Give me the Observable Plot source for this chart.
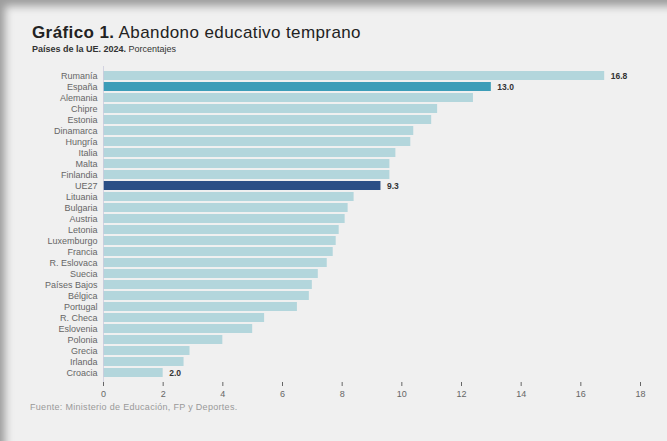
<!DOCTYPE html>
<html><head><meta charset="utf-8">
<script src="https://cdn.jsdelivr.net/npm/d3@7"></script>
<script src="https://cdn.jsdelivr.net/npm/@observablehq/plot@0.6"></script>
<style>
html,body{margin:0;padding:0;}
body{width:667px;height:441px;overflow:hidden;background:#f0f0f0;font-family:"Liberation Sans",Arial,sans-serif;position:relative;}
#frame{position:absolute;left:0;top:0;width:667px;height:441px;box-shadow:inset 9px 10px 9px -4px rgba(0,0,0,0.35);pointer-events:none;z-index:2;}
#title{position:absolute;left:32px;top:24px;font-size:17px;line-height:17px;color:#222;letter-spacing:0.4px;}
#title b{font-weight:bold;}
#sub{position:absolute;left:32px;top:44px;font-size:9px;line-height:10px;color:#333;}
#chart{position:absolute;left:0;top:58px;}
#src{position:absolute;left:30px;top:402px;font-size:9px;color:#999;letter-spacing:0.3px;}
</style></head>
<body>
<div id="frame"></div>
<div id="title"><b>Gráfico 1.</b> Abandono educativo temprano</div>
<div id="sub"><b>Países de la UE. 2024.</b> Porcentajes</div>
<div id="chart"></div>
<div id="src">Fuente: Ministerio de Educación, FP y Deportes.</div>
<script>
const countries = ["Rumanía","España","Alemania","Chipre","Estonia","Dinamarca","Hungría","Italia","Malta","Finlandia","UE27","Lituania","Bulgaria","Austria","Letonia","Luxemburgo","Francia","R. Eslovaca","Suecia","Países Bajos","Bélgica","Portugal","R. Checa","Eslovenia","Polonia","Grecia","Irlanda","Croacia"];
const values = [16.8,13.0,12.4,11.2,11.0,10.4,10.3,9.8,9.6,9.6,9.3,8.4,8.2,8.1,7.9,7.8,7.7,7.5,7.2,7.0,6.9,6.5,5.4,5.0,4.0,2.9,2.7,2.0];
const labelled = ["Rumanía","España","UE27","Croacia"];
const xTicks = [0,2,4,6,8,10,12,14,16,18];

const data = countries.map((c,i)=>({country:c, value:values[i]}));
const color = c => c === "UE27" ? "#2b4f86" : c === "España" ? "#3d9db8" : "#b3d6dc";

const chart = Plot.plot({
  width: 667,
  height: 345,
  marginLeft: 103,
  marginRight: 27,
  marginTop: 8,
  marginBottom: 21,
  style: {background: "transparent", fontFamily: "Liberation Sans, Arial, sans-serif", fontSize: "9px", color: "#666"},
  x: {domain: [0,18], ticks: xTicks, tickFormat: d => d, label: null, tickSize: 4, tickPadding: 4},
  y: {domain: countries, label: null, tickSize: 0, tickPadding: 6, padding: 0.14},
  marks: [
    Plot.barX(data, {x: "value", y: "country", fill: d => color(d.country)}),
    Plot.ruleX([0], {stroke: "#ccd", strokeWidth: 0.8}),
    Plot.text(data.filter(d => labelled.includes(d.country)), {x: "value", y: "country", text: d => d.value.toFixed(1), textAnchor: "start", dx: 6, fill: "#333", fontSize: 8.5, fontWeight: "bold"})
  ]
});
document.getElementById("chart").appendChild(chart);
</script>
</body></html>
